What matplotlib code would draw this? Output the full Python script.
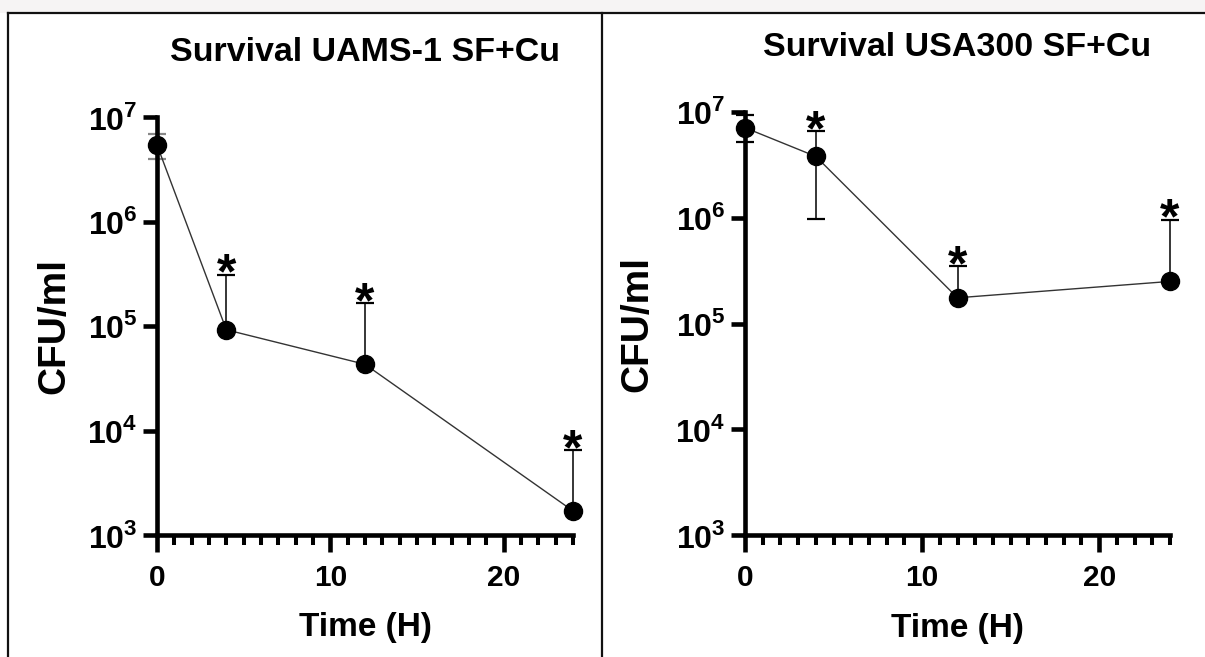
import math
import matplotlib
matplotlib.use('Agg')
import matplotlib.pyplot as plt
from matplotlib.ticker import FixedLocator, MultipleLocator, FuncFormatter
from matplotlib.lines import Line2D
from matplotlib.patches import Rectangle

plt.rcParams['font.family'] = ['Liberation Sans', 'DejaVu Sans']
plt.rcParams['font.weight'] = 'bold'
plt.rcParams['mathtext.fontset'] = 'custom'
plt.rcParams['mathtext.rm'] = 'Liberation Sans:bold'
plt.rcParams['mathtext.bf'] = 'Liberation Sans:bold'

# time points (hours)
times = [0, 4, 12, 24]

# UAMS-1 survival (CFU/ml): mean, upper and lower error ends
uams_mean = [5.4e6, 9.2e4, 4.3e4, 1.7e3]
uams_hi = [6.9e6, 3.1e5, 1.66e5, 6.5e3]
uams_lo = [4.0e6, 9.2e4, 4.3e4, 1.7e3]
uams_star = [False, True, True, True]

# USA300 survival (CFU/ml)
usa_mean = [7.1e6, 3.8e6, 1.75e5, 2.5e5]
usa_hi = [9.3e6, 6.6e6, 3.5e5, 9.6e5]
usa_lo = [5.2e6, 9.8e5, 1.75e5, 2.5e5]
usa_star = [False, True, True, True]

titles = ['Survival UAMS-1 SF+Cu', 'Survival USA300 SF+Cu']
y_decades = [3, 4, 5, 6, 7]


def draw_panel(ax, mean, hi, lo, stars, title, ecolors, ylab_x):
    ax.plot(times, mean, color='#333333', lw=1.0, zorder=2)
    for t, m, h, l, ec in zip(times, mean, hi, lo, ecolors):
        ax.errorbar([t], [m], yerr=[[m - l], [h - m]], fmt='none', ecolor=ec,
                    elinewidth=1.1, capsize=6.5, capthick=1.6, zorder=1,
                    clip_on=False)
    ax.plot(times, mean, 'o', color='black', markersize=13, zorder=4,
            clip_on=False)
    for t, h, s in zip(times, hi, stars):
        if s:
            ax.annotate('*', (t, h), xytext=(0, -10), textcoords='offset points',
                        ha='center', va='baseline', fontsize=36,
                        fontweight='bold', annotation_clip=False)

    ax.set_yscale('log')
    ax.set_ylim(1e3, 1e7)
    ax.set_xlim(0, 24)
    ax.yaxis.set_major_locator(FixedLocator([10.0 ** d for d in y_decades]))
    ax.yaxis.set_minor_locator(FixedLocator([]))
    ax.yaxis.set_major_formatter(FuncFormatter(lambda v, p: r'$10^{%d}$' % round(math.log10(v))))
    ax.xaxis.set_major_locator(FixedLocator([0, 10, 20]))
    ax.xaxis.set_minor_locator(MultipleLocator(1))

    for side in ['top', 'right']:
        ax.spines[side].set_visible(False)
    for side in ['left', 'bottom']:
        ax.spines[side].set_linewidth(3.3)
    ax.tick_params(axis='y', which='major', length=10, width=3.3, labelsize=23, pad=4)
    ax.tick_params(axis='x', which='major', length=12.5, width=3.3, labelsize=21.5, pad=8.5)
    ax.tick_params(axis='x', which='minor', length=7, width=2.9)

    ax.set_title(title, fontsize=24.5, fontweight='bold', pad=40)
    ax.set_xlabel('Time (H)', fontsize=24, fontweight='bold')
    ax.set_ylabel('CFU/ml', fontsize=28, fontweight='bold')
    ax.xaxis.set_label_coords(0.5, -0.185)
    ax.yaxis.set_label_coords(ylab_x, 0.5)


fig = plt.figure(figsize=(12.05, 6.57), dpi=100)

# light strip along the top and the framing lines
fig.patches.append(Rectangle((0, 1 - 13 / 657), 1, 13 / 657, transform=fig.transFigure,
                             facecolor='#f6f4f4', edgecolor='none', zorder=0))
fig.add_artist(Line2D([8 / 1205, 8 / 1205], [0, 1 - 13 / 657], color='#111111', lw=1.6))
fig.add_artist(Line2D([8 / 1205, 1], [1 - 13 / 657, 1 - 13 / 657], color='#111111', lw=1.6))
fig.add_artist(Line2D([602 / 1205, 602 / 1205], [0, 1 - 13 / 657], color='#111111', lw=1.6))

ax1 = fig.add_axes([157 / 1205, 1 - 535 / 657, 416 / 1205, 418 / 657])
ax2 = fig.add_axes([745 / 1205, 1 - 535 / 657, 425 / 1205, 423 / 657])

draw_panel(ax1, uams_mean, uams_hi, uams_lo, uams_star, titles[0],
           ['#888888', 'black', 'black', 'black'], -0.204)
draw_panel(ax2, usa_mean, usa_hi, usa_lo, usa_star, titles[1],
           ['black', 'black', 'black', 'black'], -0.21)

fig.savefig('out.png', dpi=100)
